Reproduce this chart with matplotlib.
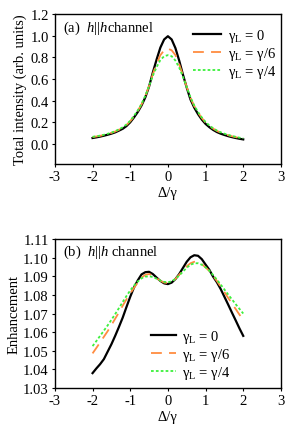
import numpy as np
import matplotlib
matplotlib.use("Agg")
from matplotlib import pyplot as plt

plt.rcParams['font.family'] = ['Liberation Serif', 'DejaVu Serif']
plt.rcParams['mathtext.fontset'] = 'custom'
plt.rcParams['mathtext.rm'] = 'Liberation Serif'
plt.rcParams['mathtext.it'] = 'Liberation Serif:italic'
plt.rcParams['font.size'] = 10.5

# detuning Delta/gamma, same grid for both panels
x_d = [-2.0, -1.9, -1.8, -1.7, -1.6, -1.5, -1.4, -1.3, -1.2, -1.1, -1.0,
       -0.9, -0.8, -0.7, -0.6, -0.5, -0.4, -0.3, -0.2, -0.1, 0.0,
       0.1, 0.2, 0.3, 0.4, 0.5, 0.6, 0.7, 0.8, 0.9, 1.0,
       1.1, 1.2, 1.3, 1.4, 1.5, 1.6, 1.7, 1.8, 1.9, 2.0]

# (a) total intensity
int_0 = [0.055, 0.061, 0.068, 0.076, 0.085, 0.095, 0.107, 0.123, 0.140, 0.165, 0.200,
         0.245, 0.295, 0.355, 0.430, 0.530, 0.660, 0.780, 0.890, 0.965, 0.995,
         0.965, 0.885, 0.770, 0.640, 0.520, 0.410, 0.335, 0.275, 0.225, 0.185,
         0.155, 0.130, 0.110, 0.095, 0.083, 0.072, 0.063, 0.055, 0.048, 0.042]
int_6 = [0.064, 0.069, 0.075, 0.083, 0.092, 0.102, 0.115, 0.131, 0.150, 0.175, 0.210,
         0.255, 0.305, 0.365, 0.440, 0.535, 0.645, 0.740, 0.820, 0.865, 0.880,
         0.865, 0.820, 0.735, 0.635, 0.525, 0.425, 0.350, 0.290, 0.240, 0.198,
         0.167, 0.142, 0.121, 0.105, 0.092, 0.081, 0.071, 0.063, 0.056, 0.050]
int_4 = [0.066, 0.071, 0.077, 0.085, 0.094, 0.105, 0.118, 0.135, 0.154, 0.180, 0.215,
         0.260, 0.310, 0.370, 0.445, 0.535, 0.630, 0.710, 0.775, 0.810, 0.820,
         0.810, 0.770, 0.705, 0.620, 0.525, 0.430, 0.355, 0.295, 0.245, 0.203,
         0.171, 0.145, 0.124, 0.108, 0.095, 0.084, 0.074, 0.066, 0.058, 0.052]

# (b) enhancement
enh_0 = [1.0380, 1.0405, 1.0428, 1.0455, 1.0495, 1.0535, 1.0580, 1.0628, 1.0678, 1.0735, 1.0790,
         1.0840, 1.0878, 1.0910, 1.0922, 1.0924, 1.0912, 1.0893, 1.0875, 1.0862, 1.0858,
         1.0866, 1.0885, 1.0912, 1.0945, 1.0978, 1.1002, 1.1013, 1.1010, 1.0992, 1.0963,
         1.0935, 1.0898, 1.0868, 1.0832, 1.0790, 1.0748, 1.0705, 1.0663, 1.0620, 1.0580]
enh_6 = [1.0486, 1.0515, 1.0545, 1.0575, 1.0605, 1.0638, 1.0672, 1.0706, 1.0742, 1.0776, 1.0808,
         1.0838, 1.0866, 1.0892, 1.0908, 1.0912, 1.0905, 1.0890, 1.0876, 1.0866, 1.0864,
         1.0870, 1.0886, 1.0908, 1.0932, 1.0954, 1.0970, 1.0978, 1.0976, 1.0965, 1.0948,
         1.0928, 1.0902, 1.0875, 1.0845, 1.0815, 1.0784, 1.0754, 1.0724, 1.0694, 1.0665]
enh_4 = [1.0525, 1.0552, 1.0580, 1.0608, 1.0636, 1.0666, 1.0697, 1.0729, 1.0762, 1.0794, 1.0824,
         1.0850, 1.0872, 1.0889, 1.0898, 1.0900, 1.0896, 1.0887, 1.0877, 1.0870, 1.0868,
         1.0873, 1.0886, 1.0904, 1.0925, 1.0946, 1.0962, 1.0970, 1.0970, 1.0962, 1.0948,
         1.0930, 1.0907, 1.0882, 1.0856, 1.0829, 1.0802, 1.0776, 1.0750, 1.0725, 1.0700]

labels = [r'γ$_\mathrm{L}$ = 0', r'γ$_\mathrm{L}$ = γ/6', r'γ$_\mathrm{L}$ = γ/4']
styles = [dict(color='black', lw=1.6, ls='-'),
          dict(color='#ff8c40', lw=1.3, ls=(0, (6, 4))),
          dict(color='#3cf03c', lw=1.3, ls=(0, (1.5, 1.2)))]

fig = plt.figure(figsize=(2.92, 4.35), dpi=100)
ax1 = fig.add_axes([0.188, 0.6207, 0.774, 0.3448])
ax2 = fig.add_axes([0.188, 0.1057, 0.774, 0.3425])

for ys, lab, st in zip([int_0, int_6, int_4], labels, styles):
    ax1.plot(x_d, ys, label=lab, **st)
for ys, lab, st in zip([enh_0, enh_6, enh_4], labels, styles):
    ax2.plot(x_d, ys, label=lab, **st)

ax1.set_xlim(-3, 3)
ax1.set_ylim(-0.185, 1.2)
ax1.set_yticks(np.arange(0, 1.21, 0.2))
ax1.set_yticklabels(['%.1f' % v for v in np.arange(0, 1.21, 0.2)])
ax1.set_ylabel('Total intensity (arb. units)', labelpad=2)
ax1.text(0.035, 0.91, r'(a)  $h$||$h$channel', transform=ax1.transAxes, ha='left', va='center')
ax1.legend(loc='upper right', bbox_to_anchor=(1.02, 0.97), frameon=False, handlelength=1.9,
           handletextpad=0.5, labelspacing=0.05, borderaxespad=0.2)

ax2.set_xlim(-3, 3)
ax2.set_ylim(1.03, 1.11)
ax2.set_yticks(np.arange(1.03, 1.111, 0.01))
ax2.set_yticklabels(['%.2f' % v for v in np.arange(1.03, 1.111, 0.01)])
ax2.set_ylabel('Enhancement', labelpad=2)
ax2.text(0.035, 0.92, r'(b)  $h$||$h$ channel', transform=ax2.transAxes, ha='left', va='center')
ax2.legend(loc='upper left', bbox_to_anchor=(0.40, 0.44), frameon=False, handlelength=1.7,
           handletextpad=0.4, labelspacing=0.05, borderaxespad=0.0)

for ax in (ax1, ax2):
    ax.set_xticks(range(-3, 4))
    ax.set_xticklabels([str(v) for v in range(-3, 4)])
    ax.set_xlabel('Δ/γ', labelpad=2)
    ax.tick_params(direction='out', length=2.5, width=0.8, pad=2, top=False, right=False)
    for s in ax.spines.values():
        s.set_linewidth(1.0)

fig.savefig('out.png', dpi=100)
